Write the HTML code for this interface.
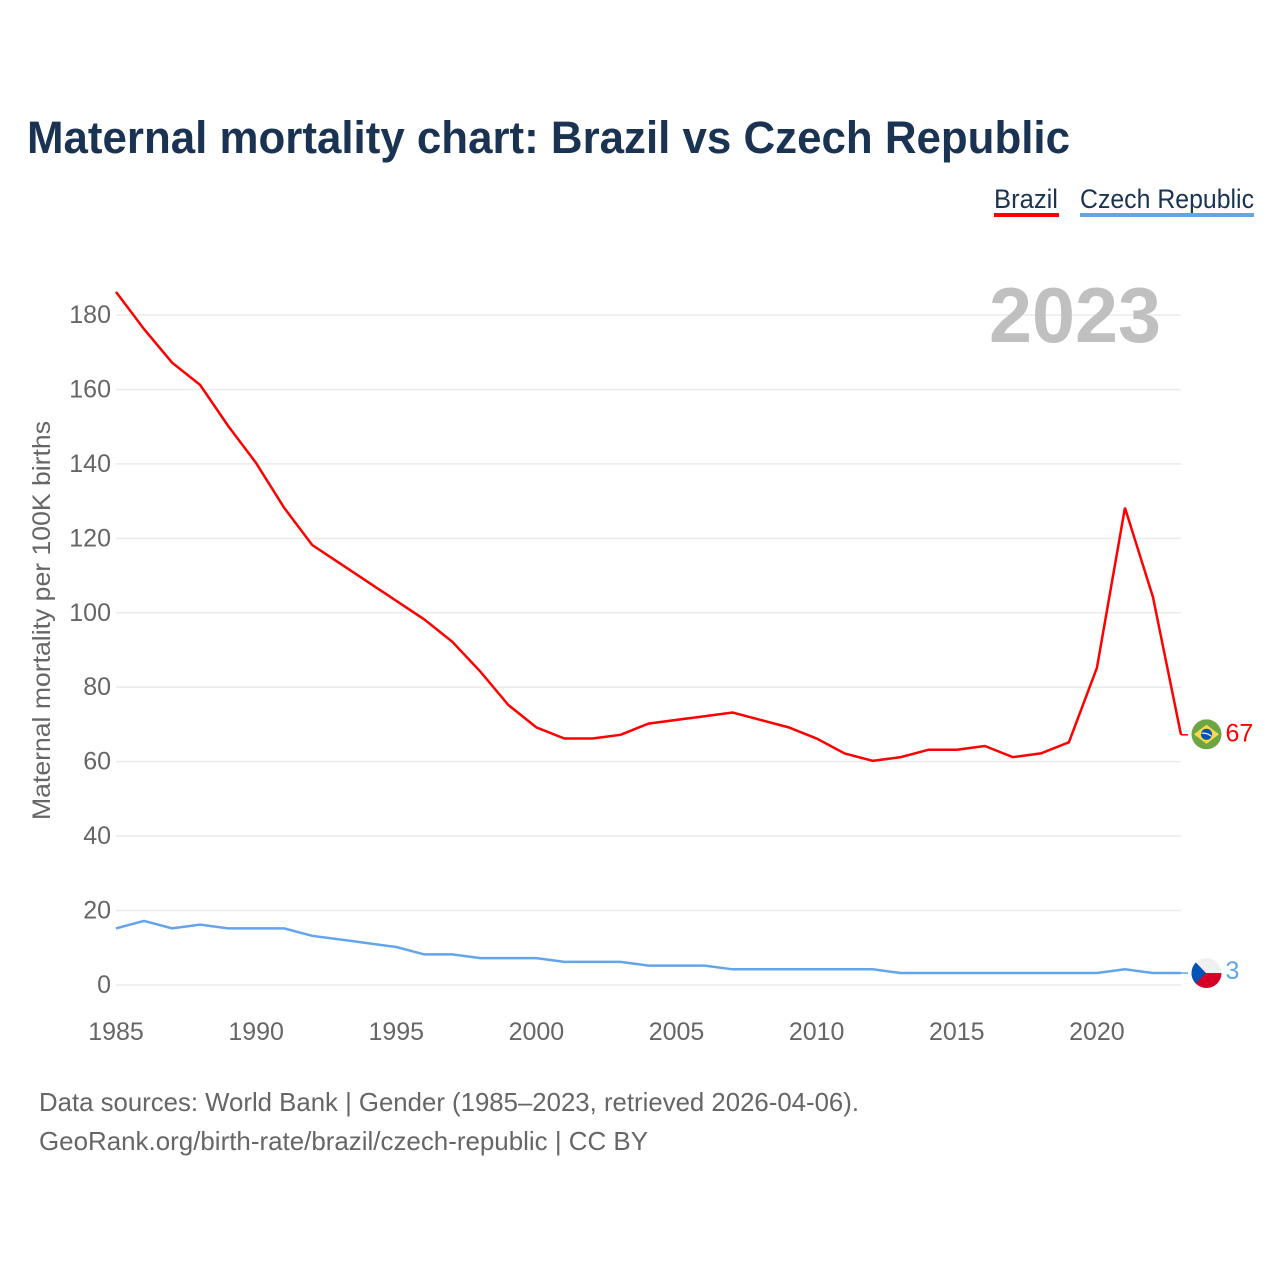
<!DOCTYPE html>
<html lang="en">
<head>
<meta charset="utf-8">
<title>Maternal mortality chart: Brazil vs Czech Republic</title>
<style>
html,body{margin:0;padding:0;background:#fff}
svg{display:block}
text{font-family:"Liberation Sans",sans-serif}
</style>
</head>
<body>
<svg id="chart" xmlns="http://www.w3.org/2000/svg" width="1280" height="1280" viewBox="0 0 1280 1280">
  <rect width="1280" height="1280" fill="#ffffff"/>
  <text x="27" y="153" font-size="45" font-weight="700" fill="#1a3353" textLength="1043" lengthAdjust="spacingAndGlyphs">Maternal mortality chart: Brazil vs Czech Republic</text>
  <g>
    <text x="994" y="208" font-size="27" fill="#1a3353" textLength="64" lengthAdjust="spacingAndGlyphs">Brazil</text>
    <rect x="994" y="213" width="65" height="4" fill="#ff0000"/>
  </g>
  <g>
    <text x="1080" y="208" font-size="27" fill="#1a3353" textLength="174" lengthAdjust="spacingAndGlyphs">Czech Republic</text>
    <rect x="1080" y="213" width="174" height="4" fill="#62a5ec"/>
  </g>
  <g id="grid"></g>
  <text x="989" y="342" font-size="78" font-weight="700" fill="#c0c0c0" textLength="172" lengthAdjust="spacingAndGlyphs">2023</text>
  <g id="yticks"></g>
  <g id="xticks"></g>
  <text transform="translate(50,620.5) rotate(-90)" text-anchor="middle" font-size="25" fill="#666666" textLength="399" lengthAdjust="spacingAndGlyphs">Maternal mortality per 100K births</text>
  <g id="series" transform="translate(0,-0.8)"></g>
  <g id="end-brazil">
    <clipPath id="clip-br"><circle r="15"/></clipPath>
    <g clip-path="url(#clip-br)">
      <rect x="-15" y="-15" width="30" height="30" fill="#6da544"/>
      <polygon points="-12.5,0 0,-9.5 12.5,0 0,9.5" fill="#ffda44"/>
      <circle r="5.6" fill="#0052b4"/>
      <path d="M-5,-1 Q0,-2 5,2" stroke="#f0f0f0" stroke-width="1.2" fill="none"/>
    </g>
    <text id="label-brazil" x="19" y="7" font-size="25" fill="#ff0000"></text>
  </g>
  <g id="end-czech">
    <clipPath id="clip-cz"><circle r="15"/></clipPath>
    <g clip-path="url(#clip-cz)">
      <rect x="-15" y="-15" width="30" height="15" fill="#f0f0f0"/>
      <rect x="-15" y="0" width="30" height="15" fill="#d80027"/>
      <polygon points="-15,-15 -15,15 -0.5,0" fill="#0052b4"/>
    </g>
    <text id="label-czech" x="19" y="6" font-size="25" fill="#62a5ec"></text>
  </g>
  <text x="39" y="1111" font-size="26" fill="#666666" textLength="820" lengthAdjust="spacingAndGlyphs">Data sources: World Bank | Gender (1985–2023, retrieved 2026-04-06).</text>
  <text x="39" y="1150" font-size="26" fill="#666666" textLength="609" lengthAdjust="spacingAndGlyphs">GeoRank.org/birth-rate/brazil/czech-republic | CC BY</text>
</svg>
<script>
const years = [1985,1986,1987,1988,1989,1990,1991,1992,1993,1994,1995,1996,1997,1998,1999,2000,2001,2002,2003,2004,2005,2006,2007,2008,2009,2010,2011,2012,2013,2014,2015,2016,2017,2018,2019,2020,2021,2022,2023];
const brazilValues = [186,176,167,161,150,140,128,118,113,108,103,98,92,84,75,69,66,66,67,70,71,72,73,71,69,66,62,60,61,63,63,64,61,62,65,85,128,104,67];
const czechValues = [15,17,15,16,15,15,15,13,12,11,10,8,8,7,7,7,6,6,6,5,5,5,4,4,4,4,4,4,3,3,3,3,3,3,3,3,4,3,3];
const yTickValues = [0,20,40,60,80,100,120,140,160,180];
const xTickValues = [1985,1990,1995,2000,2005,2010,2015,2020];

const NS = 'http://www.w3.org/2000/svg';
const xScale = function (yr) { return 116 + (yr - 1985) * (1181 - 116) / 38; };
const yScale = function (v) { return 985 - v * (985 - 315) / 180; };

const gridGroup = document.getElementById('grid');
const yTickGroup = document.getElementById('yticks');
const xTickGroup = document.getElementById('xticks');
const seriesGroup = document.getElementById('series');

yTickValues.forEach(function (v) {
  const line = document.createElementNS(NS, 'line');
  
  
  line.setAttribute('x1', xScale(1985));
  line.setAttribute('x2', xScale(2023));
  line.setAttribute('y1', yScale(v));
  line.setAttribute('y2', yScale(v));
  line.setAttribute('stroke', '#ebebeb');
  line.setAttribute('stroke-width', '1.5');
  gridGroup.appendChild(line);

  const label = document.createElementNS(NS, 'text');
  
  
  label.setAttribute('x', 111);
  label.setAttribute('y', yScale(v) + 8);
  label.setAttribute('text-anchor', 'end');
  label.setAttribute('font-size', '25');
  label.setAttribute('fill', '#666666');
  label.textContent = v;
  yTickGroup.appendChild(label);
});

xTickValues.forEach(function (yr) {
  const label = document.createElementNS(NS, 'text');
  
  
  label.setAttribute('x', xScale(yr));
  label.setAttribute('y', 1040);
  label.setAttribute('text-anchor', 'middle');
  label.setAttribute('font-size', '25');
  label.setAttribute('fill', '#666666');
  label.textContent = yr;
  xTickGroup.appendChild(label);
});

function pathFor(values) {
  return values.map(function (v, i) {
    return (i ? 'L' : 'M') + xScale(years[i]).toFixed(2) + ',' + yScale(v).toFixed(2);
  }).join(' ');
}

const brazilLine = document.createElementNS(NS, 'path');


brazilLine.setAttribute('d', pathFor(brazilValues));
brazilLine.setAttribute('fill', 'none');
brazilLine.setAttribute('stroke', '#ff0000');
brazilLine.setAttribute('stroke-width', '2.5');
seriesGroup.appendChild(brazilLine);

const czechLine = document.createElementNS(NS, 'path');


czechLine.setAttribute('d', pathFor(czechValues));
czechLine.setAttribute('fill', 'none');
czechLine.setAttribute('stroke', '#62a5ec');
czechLine.setAttribute('stroke-width', '2.5');
seriesGroup.appendChild(czechLine);

const brazilLast = brazilValues[brazilValues.length - 1];
const czechLast = czechValues[czechValues.length - 1];

const brazilConnector = document.createElementNS(NS, 'line');


brazilConnector.setAttribute('x1', xScale(2023));
brazilConnector.setAttribute('x2', xScale(2023) + 7);
brazilConnector.setAttribute('y1', yScale(brazilLast));
brazilConnector.setAttribute('y2', yScale(brazilLast));
brazilConnector.setAttribute('stroke', '#ff0000');
brazilConnector.setAttribute('stroke-width', '1.5');
seriesGroup.appendChild(brazilConnector);

const czechConnector = document.createElementNS(NS, 'line');


czechConnector.setAttribute('x1', xScale(2023));
czechConnector.setAttribute('x2', xScale(2023) + 7);
czechConnector.setAttribute('y1', yScale(czechLast));
czechConnector.setAttribute('y2', yScale(czechLast));
czechConnector.setAttribute('stroke', '#62a5ec');
czechConnector.setAttribute('stroke-width', '1.5');
seriesGroup.appendChild(czechConnector);

document.getElementById('end-brazil').setAttribute('transform', 'translate(' + (xScale(2023) + 25.5) + ',' + (yScale(brazilLast) - 1.3) + ')');
document.getElementById('end-czech').setAttribute('transform', 'translate(' + (xScale(2023) + 25.5) + ',' + (yScale(czechLast) - 0.8) + ')');
document.getElementById('label-brazil').textContent = brazilLast;
document.getElementById('label-czech').textContent = czechLast;
</script>
</body>
</html>
